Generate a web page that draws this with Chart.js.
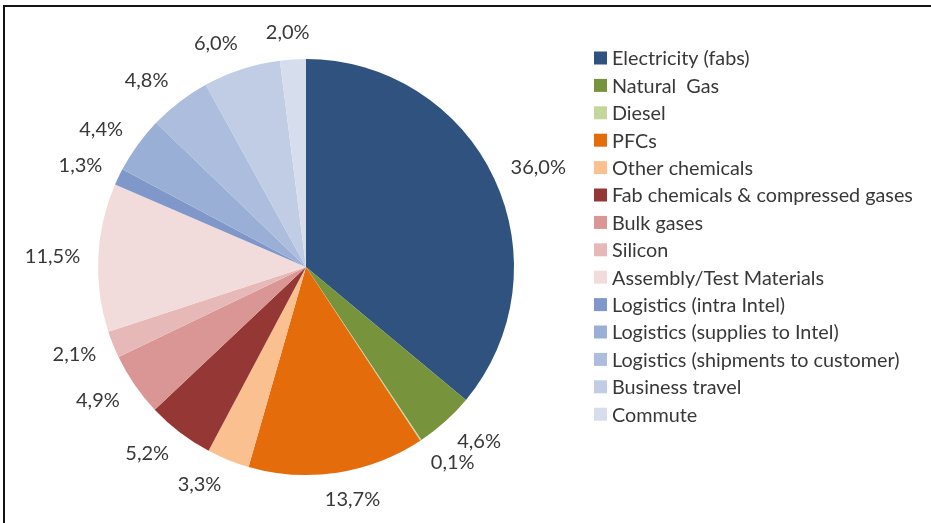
<!DOCTYPE html>
<html>
<head>
<meta charset="utf-8">
<script src="https://cdn.jsdelivr.net/npm/chart.js@4"></script>
<style>
  body { margin: 0; background: #fff; }
  #wrap { position: relative; width: 931px; height: 523px; overflow: hidden; }
  #frame {
    position: absolute; left: 3px; top: 5px; width: 960px; height: 560px;
    border-top: 2px solid #141414; border-left: 2px solid #141414;
  }
  canvas { position: absolute; left: 0; top: 0; }
</style>
</head>
<body>
<div id="wrap">
  <canvas id="pie" width="931" height="523"></canvas>
  <div id="frame"></div>
</div>
<script>
const categories = [
  'Electricity (fabs)',
  'Natural  Gas',
  'Diesel',
  'PFCs',
  'Other chemicals',
  'Fab chemicals & compressed gases',
  'Bulk gases',
  'Silicon',
  'Assembly/Test Materials',
  'Logistics (intra Intel)',
  'Logistics (supplies to Intel)',
  'Logistics (shipments to customer)',
  'Business travel',
  'Commute'
];
const shares = [36.0, 4.6, 0.1, 13.7, 3.3, 5.2, 4.9, 2.1, 11.5, 1.3, 4.4, 4.8, 6.0, 2.0];
const colors = [
  '#30527f', '#77933c', '#c3d69b', '#e46c0a', '#fac090', '#953735', '#d99694',
  '#e6b9b8', '#f2dcdb', '#7f97c9', '#9aafd6', '#adbddd', '#c1cde4', '#d6dded'
];

const FONT = 'Lato, "Open Sans", sans-serif';
const TEXT = '#383838';

const fmt = v => v.toFixed(1).replace('.', ',') + '%';

// percentage labels outside each slice; the text box sits just off the rim,
// pushed sideways by half its width on the left and right halves
const outsideLabels = {
  id: 'outsideLabels',
  afterDatasetsDraw(chart) {
    const ctx = chart.ctx;
    const arcs = chart.getDatasetMeta(0).data;
    ctx.save();
    ctx.font = '20px ' + FONT;
    ctx.fillStyle = TEXT;
    ctx.textAlign = 'center';
    ctx.textBaseline = 'middle';
    arcs.forEach((arc, i) => {
      const mid = (arc.startAngle + arc.endAngle) / 2;
      const dx = Math.cos(mid), dy = Math.sin(mid);
      const txt = fmt(shares[i]);
      const w = ctx.measureText(txt).width;
      const side = Math.sign(dx) * Math.min(1, Math.abs(dx) * 3);
      const x = arc.x + (arc.outerRadius + 18) * dx + side * w / 2;
      const y = arc.y + (arc.outerRadius + 27) * dy;
      ctx.fillText(txt, x, y);
    });
    ctx.restore();
  }
};

// legend on the right, one row per category
const sideLegend = {
  id: 'sideLegend',
  afterDraw(chart) {
    const ctx = chart.ctx;
    const left = 594, top = 58, step = 27.4, box = 13;
    ctx.save();
    ctx.font = '19.8px ' + FONT;
    ctx.textBaseline = 'middle';
    chart.data.labels.forEach((lab, i) => {
      const y = top + i * step;
      ctx.fillStyle = chart.data.datasets[0].backgroundColor[i];
      ctx.fillRect(left, y - box / 2, box, box);
      ctx.fillStyle = TEXT;
      ctx.fillText(lab, left + 18, y + 1);
    });
    ctx.restore();
  }
};

new Chart(document.getElementById('pie'), {
  type: 'pie',
  data: {
    labels: categories,
    datasets: [{
      data: shares,
      backgroundColor: colors,
      borderWidth: 0
    }]
  },
  options: {
    responsive: false,
    animation: false,
    layout: { padding: { left: 98, right: 417, top: 59, bottom: 48 } },
    plugins: {
      legend: { display: false },
      tooltip: { enabled: false }
    }
  },
  plugins: [outsideLabels, sideLegend]
});
</script>
</body>
</html>
